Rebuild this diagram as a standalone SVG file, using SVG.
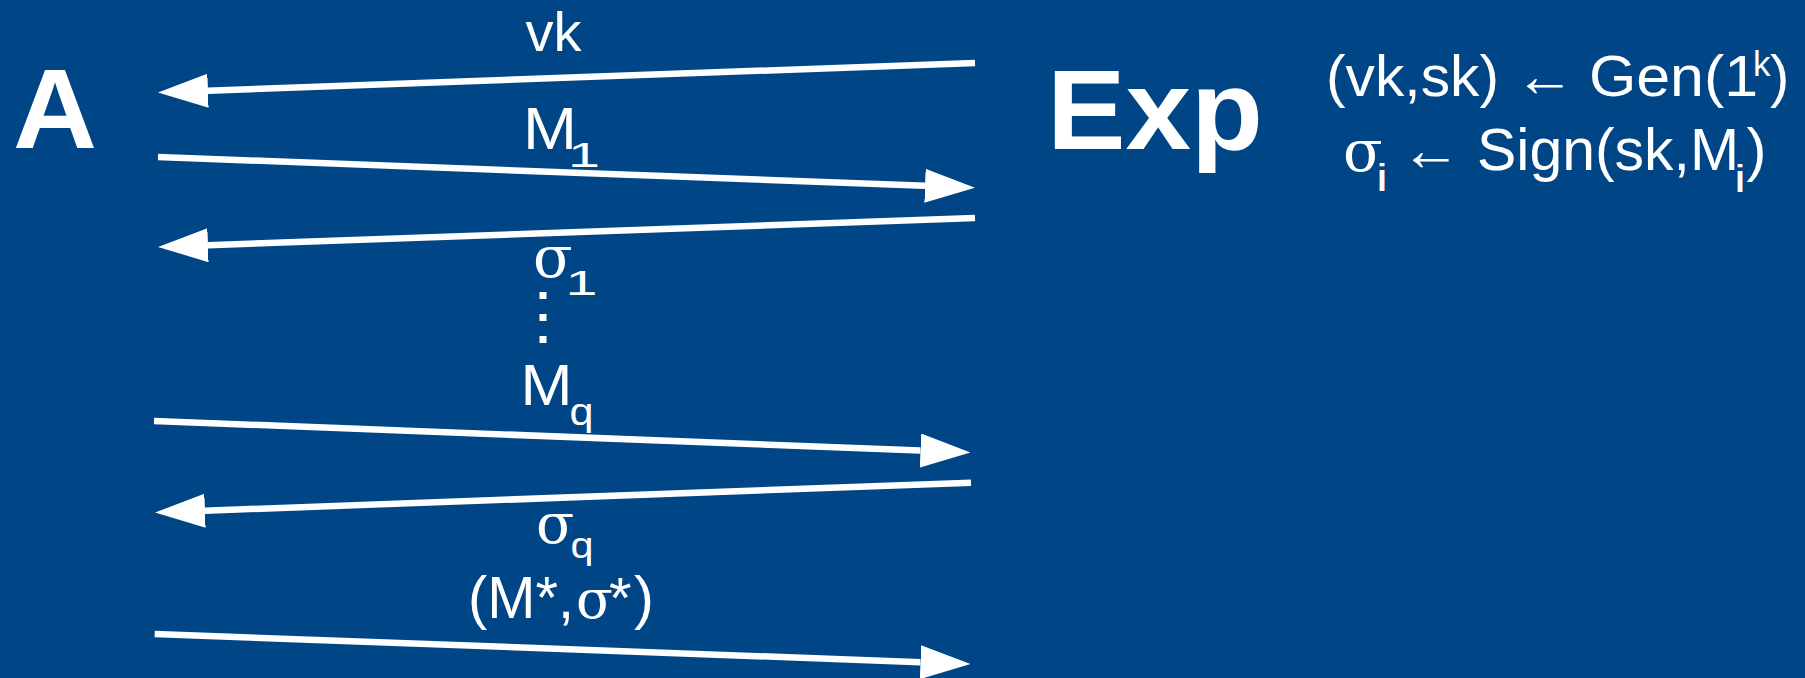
<svg xmlns="http://www.w3.org/2000/svg" width="1805" height="678" viewBox="0 0 1805 678">
<defs>
<style>
.t{font-family:"Liberation Sans",Arial,sans-serif;fill:#ffffff}
.b{font-weight:bold}
.s{font-family:"DejaVu Serif","Liberation Serif",serif;fill:#ffffff}
.ln{stroke:#ffffff;stroke-width:6.5;fill:none}
</style>
<marker id="ah" viewBox="0 -17 50 34" refX="0" refY="0" markerWidth="50" markerHeight="34" markerUnits="userSpaceOnUse" orient="auto">
<path d="M0,-17 L50,0 L0,17 Z" fill="#ffffff"/>
</marker>
</defs>
<rect x="0" y="0" width="1805" height="678" fill="#004586"/>
<g id="node-A">
<text class="t b" x="13" y="148" font-size="114" textLength="84" lengthAdjust="spacingAndGlyphs">A</text>
</g>
<g id="node-Exp">
<text class="t b" x="1047" y="149" font-size="114" textLength="216" lengthAdjust="spacingAndGlyphs">Exp</text>
<text class="t" x="1326" y="96" font-size="58" textLength="173" lengthAdjust="spacingAndGlyphs">(vk,sk)</text>
<text class="t" x="1515" y="96" font-size="60">←</text>
<text class="t" x="1589" y="96" font-size="58" textLength="169" lengthAdjust="spacingAndGlyphs">Gen(1</text>
<text class="t" x="1753" y="76" font-size="35">k</text>
<text class="t" x="1770" y="96" font-size="58">)</text>
<text class="s" x="1343" y="171" font-size="58">σ</text>
<text class="t" x="1376" y="191" font-size="38" textLength="12" lengthAdjust="spacingAndGlyphs">i</text>
<text class="t" x="1401" y="170" font-size="60">←</text>
<text class="t" x="1477" y="170" font-size="60" textLength="262" lengthAdjust="spacingAndGlyphs">Sign(sk,M</text>
<text class="t" x="1734" y="192" font-size="38" textLength="12" lengthAdjust="spacingAndGlyphs">i</text>
<text class="t" x="1746.5" y="170" font-size="60">)</text>
</g>
<g id="connectors">
<path class="ln" d="M975,63 L208,90.7" marker-end="url(#ah)"/>
<path class="ln" d="M158,157 L925,185.8" marker-end="url(#ah)"/>
<path class="ln" d="M975,218 L208,245.2" marker-end="url(#ah)"/>
<path class="ln" d="M154,421 L920.5,450.5" marker-end="url(#ah)"/>
<path class="ln" d="M971,482.7 L205,510.7" marker-end="url(#ah)"/>
<path class="ln" d="M154.7,634 L920.5,662.2" marker-end="url(#ah)"/>
</g>
<g id="labels">
<text class="t" x="525.5" y="50.5" font-size="56">vk</text>
<text class="t" x="523" y="148.5" font-size="59" textLength="54" lengthAdjust="spacingAndGlyphs">M</text>
<text class="t" x="568" y="167" font-size="35" textLength="32" lengthAdjust="spacingAndGlyphs">1</text>
<text class="s" x="533" y="277" font-size="58">σ</text>
<text class="t" x="565.5" y="295" font-size="35" textLength="32" lengthAdjust="spacingAndGlyphs">1</text>
<rect x="539.5" y="292" width="7" height="7" fill="#ffffff"/>
<rect x="539.5" y="314" width="7" height="7" fill="#ffffff"/>
<rect x="539.5" y="336" width="7" height="7" fill="#ffffff"/>
<text class="t" x="520.5" y="405" font-size="57" textLength="52" lengthAdjust="spacingAndGlyphs">M</text>
<text class="t" x="569.6" y="425" font-size="38" textLength="24" lengthAdjust="spacingAndGlyphs">q</text>
<text class="s" x="536" y="543" font-size="56">σ</text>
<text class="t" x="570.5" y="558" font-size="36" textLength="23" lengthAdjust="spacingAndGlyphs">q</text>
<text class="t" x="468" y="618" font-size="60" textLength="106" lengthAdjust="spacingAndGlyphs">(M*,</text>
<text class="s" x="576" y="618" font-size="54">σ</text>
<text class="t" x="609" y="618" font-size="58">*</text>
<text class="t" x="634" y="618" font-size="60">)</text>
</g>
</svg>
